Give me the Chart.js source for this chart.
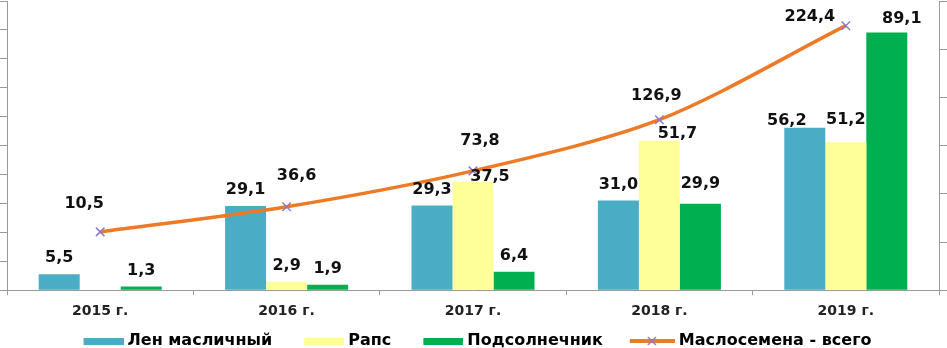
<!DOCTYPE html>
<html>
<head>
<meta charset="utf-8">
<script src="https://cdn.jsdelivr.net/npm/chart.js@4.4.0/dist/chart.umd.min.js"></script>
<style>
  html, body { margin: 0; padding: 0; background: #fff; }
  #wrap { width: 947px; height: 348px; }
</style>
</head>
<body>
<div id="wrap"><canvas id="myChart" width="947" height="348"></canvas></div>
<script>
// data
const years = ["2015 г.", "2016 г.", "2017 г.", "2018 г.", "2019 г."];
const flax = [5.5, 29.1, 29.3, 31.0, 56.2];
const rapeseed = [null, 2.9, 37.5, 51.7, 51.2];
const sunflower = [1.3, 1.9, 6.4, 29.9, 89.1];
const oilseedTotal = [10.5, 36.6, 73.8, 126.9, 224.4];

const seriesNames = ["Лен масличный", "Рапс", "Подсолнечник", "Маслосемена - всего"];
const colors = ["#4BACC6", "#FFFF99", "#00B050", "#EC7A26"];
const markerColor = "#8E7CC3";

const fmt = (v) => v.toFixed(1).replace(".", ",");

// legend symbols: 74px wide images, transparent on the left so items get the wide gaps of the original
function boxSymbol(color) {
  const c = document.createElement("canvas");
  c.width = 74; c.height = 10;
  const ctx = c.getContext("2d");
  ctx.fillStyle = color;
  ctx.fillRect(34, 2, 40, 7);
  return c;
}
function lineSymbol(color) {
  const c = document.createElement("canvas");
  c.width = 74; c.height = 12;
  const ctx = c.getContext("2d");
  ctx.strokeStyle = color;
  ctx.lineWidth = 4;
  ctx.beginPath(); ctx.moveTo(29, 6); ctx.lineTo(74, 6); ctx.stroke();
  ctx.strokeStyle = markerColor;
  ctx.lineWidth = 1.5;
  ctx.beginPath();
  ctx.moveTo(47, 2); ctx.lineTo(55, 10);
  ctx.moveTo(55, 2); ctx.lineTo(47, 10);
  ctx.stroke();
  return c;
}

// label nudges (dataset-index -> [dx, dy]) where the original labels were moved by hand
const barNudge = {
  "1-2": [17, 11], "1-3": [18, 9], "0-4": [-18, 9], "1-4": [0, -6], "2-4": [15, 2], "2-3": [0, -4]
};
const lineNudge = [[-16, -28], [10, -31], [7, -30], [-3, -24], [-36, -9]];

const valueLabels = {
  id: "valueLabels",
  afterDatasetsDraw(chart) {
    const ctx = chart.ctx;
    ctx.save();
    ctx.font = "bold 16px 'DejaVu Sans'";
    ctx.fillStyle = "#111";
    ctx.textAlign = "center";
    ctx.textBaseline = "middle";
    chart.data.datasets.forEach((ds, di) => {
      const meta = chart.getDatasetMeta(di);
      meta.data.forEach((el, i) => {
        const v = ds.data[i];
        if (v === null || v === undefined) return;
        let x = el.x, y;
        if (ds.type === "line") {
          x += lineNudge[i][0];
          y = el.y + lineNudge[i][1];
        } else {
          const n = barNudge[di + "-" + i] || [0, 0];
          x += n[0];
          y = el.y - 16 + n[1];
        }
        ctx.fillText(fmt(v), x, y);
      });
    });
    ctx.restore();
  }
};

// the legend row in the original is lower and a bit left of centre
const legendTweak = {
  id: "legendTweak",
  beforeInit(chart) {
    const fit = chart.legend.fit;
    chart.legend.fit = function () {
      fit.call(this);
      this.height -= 8;
    };
  },
  afterLayout(chart) {
    chart.legend.left -= 22;
    chart.legend.top += 3;
  }
};

const data = {
  labels: years,
  datasets: [
    { label: seriesNames[0], data: flax, backgroundColor: colors[0], yAxisID: "y", order: 1 },
    { label: seriesNames[1], data: rapeseed, backgroundColor: colors[1], yAxisID: "y", order: 1 },
    { label: seriesNames[2], data: sunflower, backgroundColor: colors[2], yAxisID: "y", order: 1 },
    {
      type: "line",
      label: seriesNames[3],
      data: oilseedTotal,
      borderColor: colors[3],
      borderWidth: 3.5,
      tension: 0.3,
      pointStyle: "crossRot",
      pointRadius: 6,
      pointBorderColor: markerColor,
      pointBorderWidth: 1.5,
      yAxisID: "y1",
      order: 0
    }
  ]
};

const axisGray = "#9a9a9a";

const config = {
  type: "bar",
  data,
  options: {
    responsive: false,
    animation: false,
    layout: { autoPadding: false, padding: { top: 1, left: 0, right: 0, bottom: 0 } },
    datasets: { bar: { categoryPercentage: 0.66, barPercentage: 1.0 } },
    scales: {
      x: {
        grid: { drawOnChartArea: false, color: axisGray, tickLength: 5 },
        border: { color: axisGray },
        ticks: { color: "#222", padding: 8, font: { family: "'DejaVu Sans'", size: 14, weight: "bold" } }
      },
      y: {
        position: "left",
        min: 0, max: 100,
        grid: { drawOnChartArea: false, color: axisGray, tickLength: 7 },
        border: { color: axisGray },
        ticks: { display: false, stepSize: 10 }
      },
      y1: {
        position: "right",
        min: -50, max: 250,
        grid: { drawOnChartArea: false, color: axisGray, tickLength: 8 },
        border: { color: axisGray },
        ticks: { display: false, stepSize: 50 }
      }
    },
    plugins: {
      tooltip: { enabled: false },
      legend: {
        position: "bottom",
        labels: {
          color: "#2a2a2a",
          font: { family: "'DejaVu Sans'", size: 16, weight: "bold" },
          usePointStyle: true,
          pointStyleWidth: 66,
          boxHeight: 12,
          padding: 2,
          generateLabels(chart) {
            return chart.data.datasets.map((ds, i) => ({
              text: ds.label,
              datasetIndex: i,
              pointStyle: ds.type === "line" ? lineSymbol(colors[i]) : boxSymbol(colors[i]),
              fillStyle: colors[i],
              strokeStyle: colors[i],
              lineWidth: 0,
              hidden: false
            }));
          }
        }
      }
    }
  },
  plugins: [valueLabels, legendTweak]
};

const myChart = new Chart(document.getElementById("myChart"), config);
</script>
</body>
</html>
